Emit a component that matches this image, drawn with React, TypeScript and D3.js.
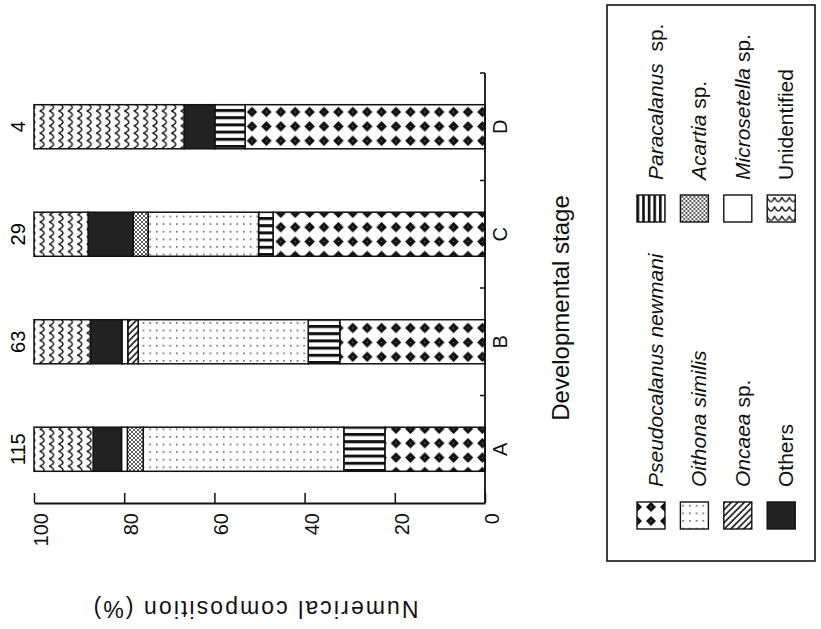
import { useEffect, useRef } from 'react'
import * as d3 from 'd3'

// stages on the category axis and the n printed at the end of each bar
const stages = ['A', 'B', 'C', 'D']
const counts = ['115', '63', '29', '4']

// numerical composition (%) per stage
const pseudocalanus = [22.2, 32.2, 47.0, 53.2]
const paracalanus = [9.1, 7.0, 3.2, 6.7]
const oithona = [44.5, 37.7, 24.5, 0]
const oncaea = [0, 2.3, 0, 0]
const acartia = [3.5, 0, 3.3, 0]
const microsetella = [1.3, 1.3, 0, 0]
const others = [6.3, 7.0, 10.0, 6.8]
const unidentified = [13.1, 12.5, 12.0, 33.3]

const valueTicks = [0, 20, 40, 60, 80, 100]

const W = 821
const H = 629
const FONT = '"Liberation Sans", Arial, Helvetica, sans-serif'

const App = () => {
  const svgRef = useRef<SVGSVGElement>(null)

  useEffect(() => {
    const svg = d3.select(svgRef.current)
    svg.selectAll('*').remove()

    const rows = stages.map((s, i) => ({
      stage: s,
      pseudocalanus: pseudocalanus[i],
      paracalanus: paracalanus[i],
      oithona: oithona[i],
      oncaea: oncaea[i],
      acartia: acartia[i],
      microsetella: microsetella[i],
      others: others[i],
      unidentified: unidentified[i]
    }))
    const keys = ['pseudocalanus', 'paracalanus', 'oithona', 'oncaea', 'acartia', 'microsetella', 'others', 'unidentified']
    const fills: Record<string, string> = {
      pseudocalanus: 'url(#p-pseudo)',
      paracalanus: 'url(#p-para)',
      oithona: 'url(#p-dots)',
      oncaea: 'url(#p-diag)',
      acartia: 'url(#p-cross)',
      microsetella: '#fff',
      others: '#222',
      unidentified: 'url(#p-wave)'
    }

    // the figure is turned on its side: values run right to left, stages bottom to top
    const x = d3.scaleLinear().domain([0, 100]).range([485, 34])
    const y = d3.scaleBand().domain(stages).range([503, 73]).paddingInner(0.59).paddingOuter(0.295)

    // fill patterns
    const defs = svg.append('defs')
    const pat = (id: string, w: number, h: number, px = 0, py = 0) => {
      const p = defs.append('pattern')
        .attr('id', id)
        .attr('patternUnits', 'userSpaceOnUse')
        .attr('x', px).attr('y', py)
        .attr('width', w).attr('height', h)
      p.append('rect').attr('width', w).attr('height', h).attr('fill', '#fff')
      return p
    }

    const diamond = (p: any, cx: number, cy: number, r: number) => {
      p.append('path')
        .attr('d', `M${cx},${cy - r}L${cx + r},${cy}L${cx},${cy + r}L${cx - r},${cy}Z`)
        .attr('fill', '#111')
      p.append('circle').attr('cx', cx).attr('cy', cy).attr('r', 0.8).attr('fill', '#777')
    }
    const pPseudo = pat('p-pseudo', 14.4, 14.4, 0, 4)
    diamond(pPseudo, 7.2, 7.2, 5.3)
    const pPseudoL = pat('p-pseudo-l', 14, 14, 637, 502)
    diamond(pPseudoL, 7, 7, 5)

    const pPara = pat('p-para', 8, 7.2, 0, 1)
    pPara.append('rect').attr('width', 8).attr('height', 3).attr('fill', '#111')
    const pParaL = pat('p-para-l', 5.6, 8, 638, 0)
    pParaL.append('rect').attr('width', 2.6).attr('height', 8).attr('fill', '#111')

    const pDots = pat('p-dots', 6.7, 7.6)
    pDots.append('rect').attr('x', 2).attr('y', 3).attr('width', 1.4).attr('height', 1.4).attr('fill', '#333')

    const pDiag = pat('p-diag', 4.6, 4.6).attr('patternTransform', 'rotate(45)')
    pDiag.append('line').attr('x1', 1).attr('x2', 1).attr('y1', 0).attr('y2', 4.6)
      .attr('stroke', '#111').attr('stroke-width', 1.6)

    const pCross = pat('p-cross', 4, 4)
    pCross.append('path').attr('d', 'M0,0L4,4M4,0L0,4')
      .attr('stroke', '#333').attr('stroke-width', 0.8)

    const wave = 'M2.2,0 C4.6,1 6.6,2.4 6.6,3.7 C6.6,5 4.6,6.4 2.2,7.4'
    const pWave = pat('p-wave', 9.4, 7.4)
    pWave.append('path').attr('d', wave).attr('fill', 'none').attr('stroke', '#111').attr('stroke-width', 1.5)
    const pWaveL = pat('p-wave-l', 9.4, 7.4).attr('patternTransform', 'rotate(90)')
    pWaveL.append('path').attr('d', wave).attr('fill', 'none').attr('stroke', '#111').attr('stroke-width', 1.3)

    svg.append('rect').attr('width', W).attr('height', H).attr('fill', '#fff')

    // stacked bars
    const series = d3.stack().keys(keys)(rows as any)
    svg.append('g')
      .selectAll('g')
      .data(series)
      .join('g')
      .attr('fill', d => fills[d.key])
      .selectAll('rect')
      .data(d => d.filter(s => s[1] - s[0] > 0))
      .join('rect')
      .attr('x', d => x(d[1]))
      .attr('width', d => x(d[0]) - x(d[1]))
      .attr('y', d => y((d.data as any).stage)!)
      .attr('height', y.bandwidth())
      .attr('stroke', '#111')
      .attr('stroke-width', 1.5)

    // n above each bar
    svg.append('g')
      .selectAll('text')
      .data(stages)
      .join('text')
      .attr('transform', (d) => `translate(25,${y(d)! + y.bandwidth() / 2}) rotate(-90)`)
      .attr('text-anchor', 'middle')
      .attr('font-family', FONT)
      .attr('font-size', 20)
      .text((d, i) => counts[i])

    // value axis (bottom of picture)
    const vAxis = svg.append('g')
      .attr('transform', 'translate(0,503)')
      .call(d3.axisBottom(x).tickValues(valueTicks).tickSizeInner(-10).tickSizeOuter(0).tickFormat(d3.format('d')))
    vAxis.select('.domain').attr('stroke', '#111').attr('stroke-width', 1.8)
    vAxis.selectAll('.tick line').attr('stroke', '#111').attr('stroke-width', 1.5)
    vAxis.selectAll('.tick text')
      .attr('x', null).attr('y', null).attr('dy', null)
      .attr('transform', 'translate(13.5,10) rotate(-90)')
      .attr('text-anchor', 'end')
      .attr('fill', '#111')
      .attr('font-family', FONT)
      .attr('font-size', 20)

    // stage axis (right of picture)
    const cAxis = svg.append('g')
    cAxis.append('line')
      .attr('x1', 485).attr('x2', 485)
      .attr('y1', y.range()[1]).attr('y2', y.range()[0])
      .attr('stroke', '#111').attr('stroke-width', 1.8)
    cAxis.selectAll('line.tick')
      .data(stages)
      .join('line')
      .attr('class', 'tick')
      .attr('x1', 480).attr('x2', 485)
      .attr('y1', d => y(d)! + y.bandwidth() / 2 - y.step() / 2)
      .attr('y2', d => y(d)! + y.bandwidth() / 2 - y.step() / 2)
      .attr('stroke', '#111').attr('stroke-width', 1.5)
    cAxis.selectAll('text')
      .data(stages)
      .join('text')
      .attr('transform', d => `translate(507,${y(d)! + y.bandwidth() / 2}) rotate(-90)`)
      .attr('text-anchor', 'middle')
      .attr('font-family', FONT)
      .attr('font-size', 20)
      .attr('fill', '#111')
      .text(d => d)

    // axis titles
    svg.append('text')
      .attr('transform', 'translate(569,308) rotate(-90)')
      .attr('text-anchor', 'middle')
      .attr('font-family', FONT)
      .attr('font-size', 24)
      .attr('fill', '#111')
      .text('Developmental stage')

    svg.append('text')
      .attr('transform', 'translate(256,601) rotate(180)')
      .attr('text-anchor', 'middle')
      .attr('font-family', FONT)
      .attr('font-size', 23)
      .attr('fill', '#111')
      .attr('textLength', 325)
      .attr('lengthAdjust', 'spacing')
      .text('Numerical composition (%)')

    // legend
    const legend = [
      { fill: 'url(#p-pseudo-l)', it: 'Pseudocalanus newmani', rest: '', col: 0 },
      { fill: 'url(#p-dots)', it: 'Oithona similis', rest: '', col: 0 },
      { fill: 'url(#p-diag)', it: 'Oncaea', rest: ' sp.', col: 0 },
      { fill: '#222', it: '', rest: 'Others', col: 0 },
      { fill: 'url(#p-para-l)', it: 'Paracalanus', rest: '  sp.', col: 1 },
      { fill: 'url(#p-cross)', it: 'Acartia', rest: ' sp.', col: 1 },
      { fill: '#fff', it: 'Microsetella', rest: ' sp.', col: 1 },
      { fill: 'url(#p-wave-l)', it: '', rest: 'Unidentified', col: 1 }
    ]
    const lg = svg.append('g')
    lg.append('rect')
      .attr('x', 607).attr('y', 5).attr('width', 208).attr('height', 556)
      .attr('fill', 'none').attr('stroke', '#111').attr('stroke-width', 1.6)
    const item = lg.selectAll('g.item')
      .data(legend)
      .join('g')
      .attr('class', 'item')
      .attr('transform', (d, i) => `translate(${637 + (i % 4) * 43.4},${d.col === 0 ? 502 : 195})`)
    item.append('rect')
      .attr('width', 28).attr('height', 27)
      .attr('fill', d => d.fill)
      .attr('stroke', '#111').attr('stroke-width', 1.4)
    const t = item.append('text')
      .attr('transform', 'translate(26,-15) rotate(-90)')
      .attr('font-family', FONT)
      .attr('font-size', 21)
      .attr('fill', '#111')
    t.append('tspan').attr('font-style', 'italic').text(d => d.it)
    t.append('tspan').attr('xml:space', 'preserve').style('white-space', 'pre').text(d => d.rest)
  }, [])

  return (
    <svg
      ref={svgRef}
      width={W}
      height={H}
      style={{ position: 'absolute', left: 0, top: 0, background: '#fff' }}
    />
  )
}

export default App
